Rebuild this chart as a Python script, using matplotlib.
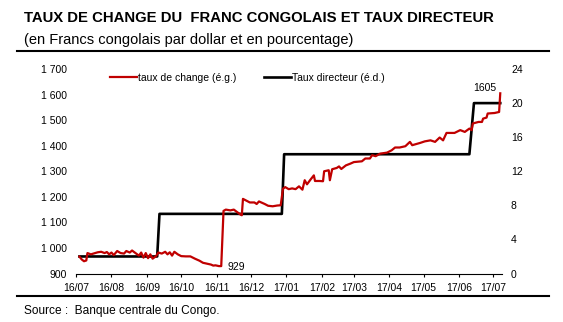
import matplotlib
matplotlib.use('Agg')
import matplotlib.pyplot as plt
import matplotlib.dates as mdates
from matplotlib.lines import Line2D
from matplotlib.ticker import FuncFormatter, MultipleLocator
import pandas as pd

plt.rcParams['font.family'] = ['Liberation Sans', 'DejaVu Sans']

start = pd.Timestamp('2016-07-01')

# exchange rate, CDF per USD (days counted from 1 July 2016)
fx_day = [3, 5, 7, 9, 10, 13, 16, 19, 22, 25, 27, 29, 31, 33, 36, 39, 42, 44, 47, 49,
          52, 55, 57, 59, 61, 63, 65, 67, 70, 72, 75, 78, 80, 82, 84, 86, 89, 92, 96, 100,
          104, 108, 111, 115, 118, 120, 122, 125, 127, 129, 131, 135, 138, 141, 144, 145, 146, 149, 152, 156,
          158, 160, 162, 165, 168, 172, 176, 179, 181, 183, 186, 189, 192, 195, 198, 200, 202, 205, 208, 209,
          213, 216, 217, 221, 222, 224, 228, 230, 232, 236, 240, 243, 250, 253, 257, 259, 262, 266, 272, 276,
          279, 283, 288, 292, 294, 301, 305, 310, 314, 318, 321, 324, 331, 336, 340, 344, 346, 347, 352, 355,
          356, 359, 360, 366, 370, 371]
fx_rate = [966, 955, 948, 951, 980, 975, 979, 983, 985, 980, 984, 975, 982, 972, 988, 980, 978, 988, 982, 990,
           980, 970, 982, 962, 980, 960, 975, 958, 968, 982, 978, 985, 975, 983, 970, 985, 975, 968, 967, 967,
           958, 950, 942, 938, 935, 931, 932, 929, 929, 1145, 1150, 1147, 1150, 1140, 1130, 1128, 1192, 1185, 1178, 1178,
           1172, 1182, 1178, 1172, 1165, 1163, 1166, 1167, 1232, 1238, 1230, 1233, 1230, 1241, 1228, 1265, 1249, 1267, 1284, 1262,
           1262, 1261, 1300, 1304, 1265, 1308, 1313, 1319, 1309, 1323, 1330, 1336, 1339, 1350, 1350, 1363, 1359, 1369, 1373, 1382,
           1393, 1393, 1398, 1415, 1402, 1411, 1417, 1421, 1415, 1432, 1421, 1450, 1450, 1461, 1454, 1467, 1461, 1487, 1493, 1493,
           1506, 1510, 1526, 1528, 1532, 1605]

# policy rate, %
policy_day = [3, 71, 73, 180, 182, 344, 348, 371]
policy_rate = [2, 2, 7, 7, 14, 14, 20, 20]

fx_dates = start + pd.to_timedelta(fx_day, unit='D')
policy_dates = start + pd.to_timedelta(policy_day, unit='D')

fig = plt.figure(figsize=(5.63, 3.22), dpi=100)
ax = fig.add_axes([0.135, 0.1506, 0.7566, 0.635])
ax2 = ax.twinx()

red_line, = ax.plot(fx_dates, fx_rate, color='#C00000', lw=1.6, zorder=3,
                    label='taux de change (é.g.)')
black_line, = ax2.plot(policy_dates, policy_rate, color='black', lw=1.9,
                       label='Taux directeur (é.d.)')
ax.set_zorder(ax2.get_zorder() + 1)
ax.patch.set_visible(False)

ax.set_xlim(start, start + pd.Timedelta(days=372.5))
ax.set_ylim(900, 1700)
ax2.set_ylim(0, 24)
ax.yaxis.set_major_locator(MultipleLocator(100))
ax2.yaxis.set_major_locator(MultipleLocator(4))
ax.yaxis.set_major_formatter(FuncFormatter(lambda v, p: f'{int(v):,}'.replace(',', ' ')))

ax.xaxis.set_major_locator(mdates.MonthLocator())
ax.xaxis.set_major_formatter(mdates.DateFormatter('%y/%m'))

for a in (ax, ax2):
    for s in ('top', 'left', 'right'):
        a.spines[s].set_visible(False)
ax2.spines['bottom'].set_visible(False)
ax.spines['bottom'].set_linewidth(0.8)

ax.tick_params(axis='x', direction='out', length=2.5, width=0.8, pad=4, labelsize=7.5)
ax.tick_params(axis='y', length=0, pad=6.7, labelsize=7.5)
ax2.tick_params(axis='y', length=0, pad=6.5, labelsize=7.5)

# min and last value labels
i_min = fx_rate.index(min(fx_rate))
ax.annotate(f'{fx_rate[i_min]}', xy=(fx_dates[i_min], fx_rate[i_min]), xytext=(6, -1),
            textcoords='offset points', ha='left', va='center', fontsize=7.5)
ax.annotate(f'{fx_rate[-1]}', xy=(fx_dates[-1], fx_rate[-1]), xytext=(-3, 3.5),
            textcoords='offset points', ha='right', va='center', fontsize=7.5)

ax2.legend(handles=[red_line, black_line], ncol=2, loc='center left',
           bbox_to_anchor=(0.08, 0.956), frameon=False, fontsize=7.5,
           borderpad=0, borderaxespad=0, handlelength=2.6, handletextpad=0.1,
           columnspacing=2.6)

fig.text(24 / 563, 0.9307, 'TAUX DE CHANGE DU  FRANC CONGOLAIS ET TAUX DIRECTEUR',
         fontsize=10.7, fontweight='bold', va='baseline')
fig.text(24 / 563, 0.8634, '(en Francs congolais par dollar et en pourcentage)',
         fontsize=10.5, va='baseline')
fig.text(24 / 563, 0.0248, 'Source :  Banque centrale du Congo.', fontsize=8.6, va='baseline')

for y in (0.8416, 0.0807):
    fig.add_artist(Line2D([17 / 563, 549 / 563], [y, y], color='black', lw=1.5))

fig.savefig('out.png', dpi=100)
